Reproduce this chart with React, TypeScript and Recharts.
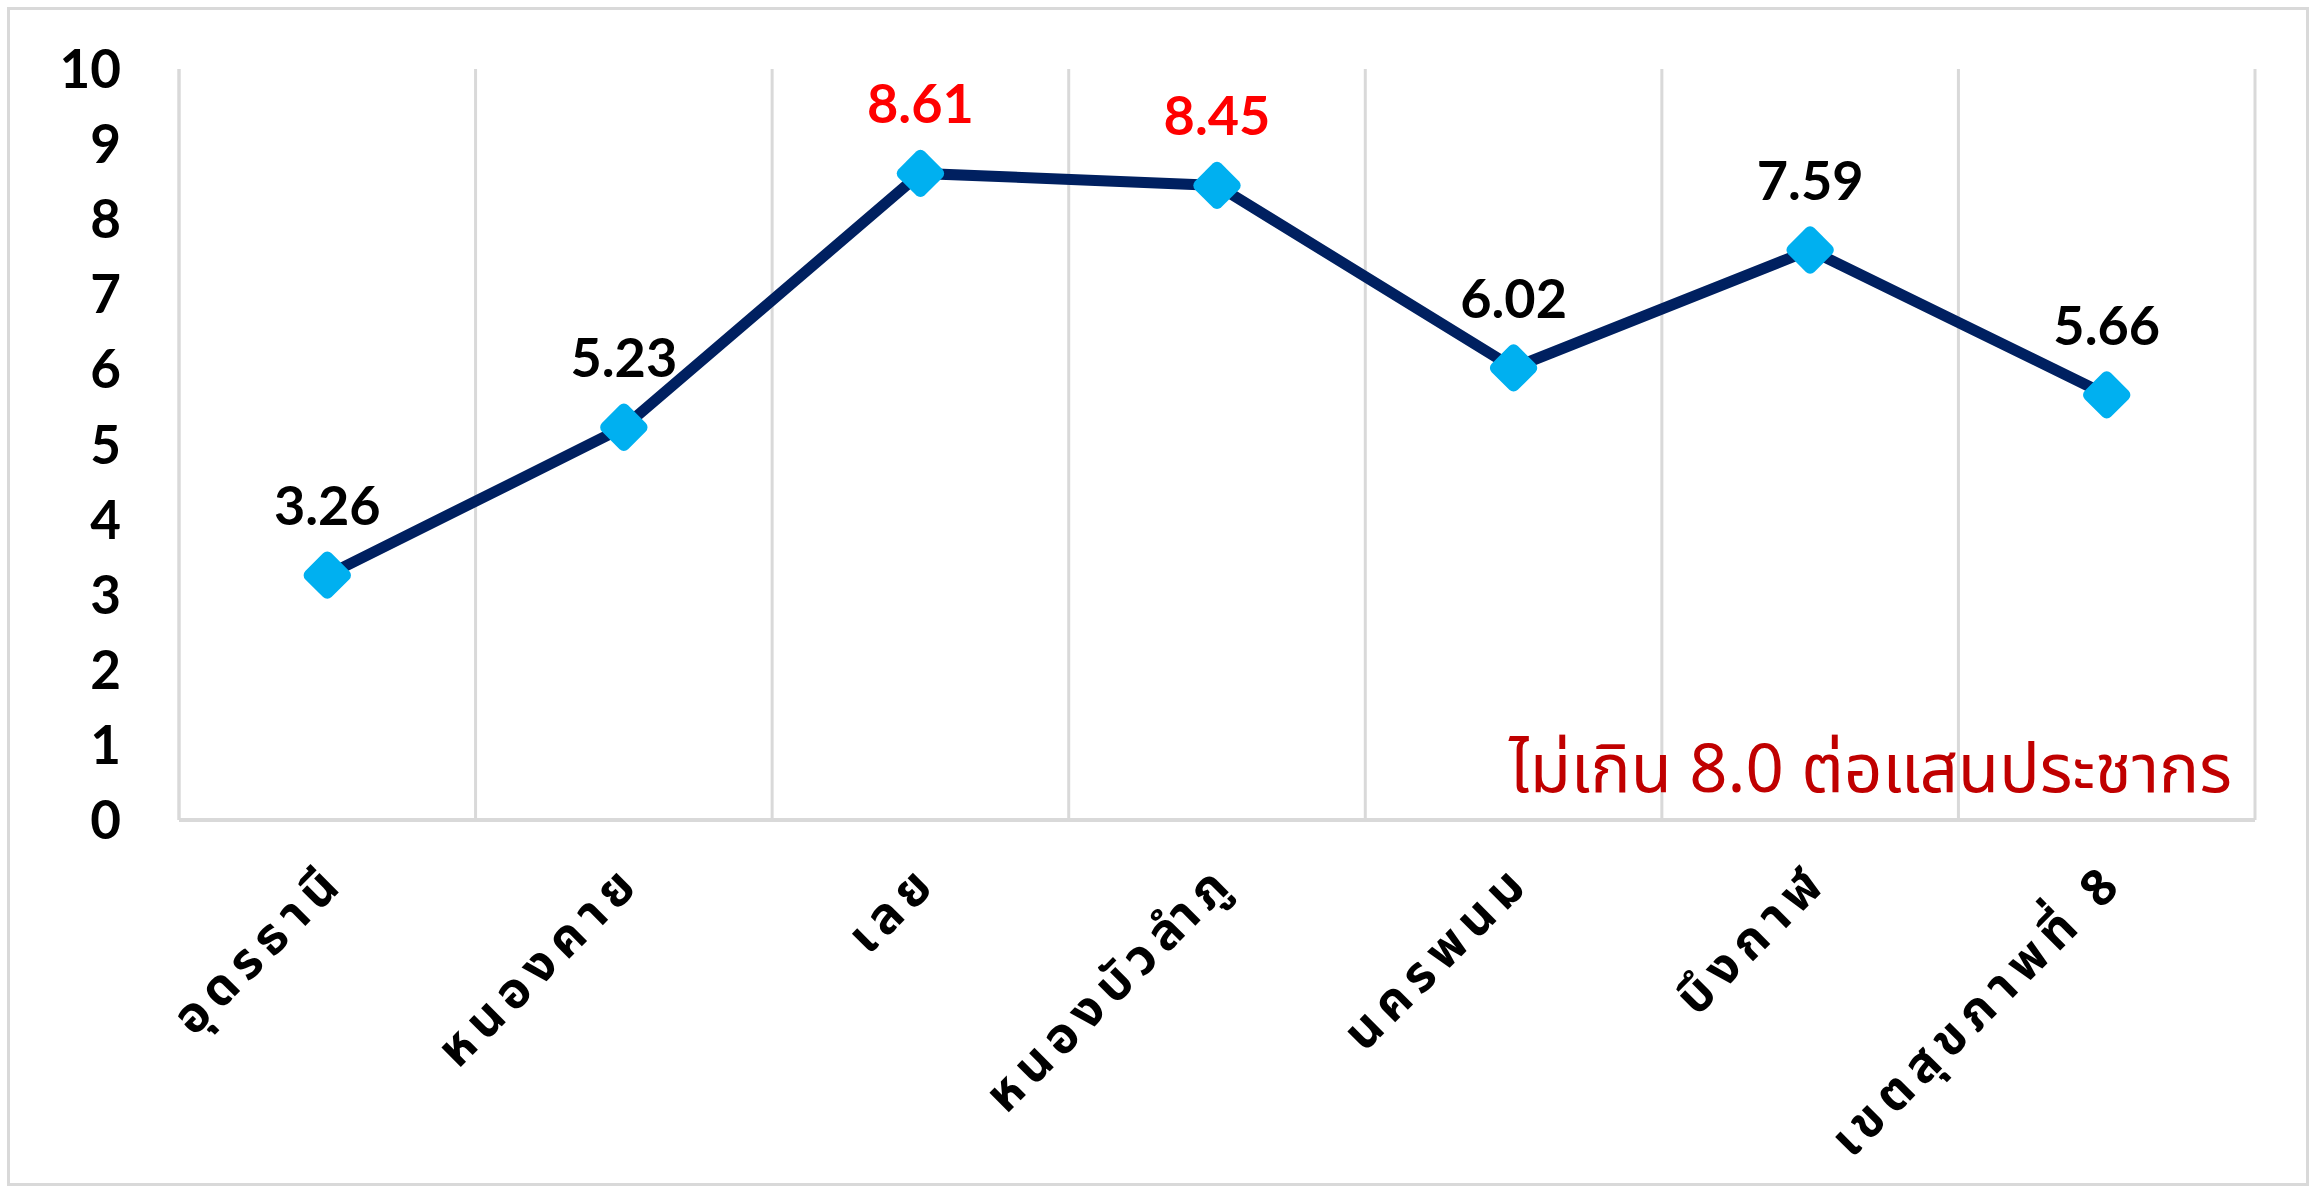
import React from "react";
import { LineChart, Line, XAxis, YAxis, CartesianGrid, LabelList } from "recharts";

const provinces = [
  "อุดรธานี",
  "หนองคาย",
  "เลย",
  "หนองบัวลำภู",
  "นครพนม",
  "บึงกาฬ",
  "เขตสุขภาพที่ 8",
];
const rates = [3.26, 5.23, 8.61, 8.45, 6.02, 7.59, 5.66];
const yTicks = [0, 1, 2, 3, 4, 5, 6, 7, 8, 9, 10];
const bandEdges = [0, 1, 2, 3, 4, 5, 6, 7];
const target = 8.0;
const targetNote = "ไม่เกิน 8.0 ต่อแสนประชากร";

const chartData = provinces.map((name, i) => ({ name, rate: rates[i], slot: i + 0.5 }));

const numFont = "Lato, 'Noto Sans', sans-serif";
const thaiFont = "Tahoma, 'Noto Sans Thai', Loma, Garuda, 'Noto Sans', sans-serif";
const gridGray = "#D9D9D9";

const Diamond = (props: any) => {
  const { cx, cy, index } = props;
  if (cx == null || cy == null) return null;
  const s = 37;
  return (
    <rect
      key={`d-${index}`}
      x={cx - s / 2}
      y={cy - s / 2}
      width={s}
      height={s}
      rx={6}
      fill="#00B0F0"
      transform={`rotate(45 ${cx} ${cy})`}
    />
  );
};

const ValueLabel = (props: any) => {
  const x = props.x ?? props.viewBox?.x;
  const y = props.y ?? props.viewBox?.y;
  const v = Number(props.value);
  return (
    <text
      x={x}
      y={y - 50}
      textAnchor="middle"
      fontSize={54}
      fontWeight={700}
      fontFamily={numFont}
      fill={v > target ? "#FF0000" : "#000000"}
    >
      {v.toFixed(2)}
    </text>
  );
};

const ProvinceTick = (props: any) => {
  const { x, y, payload } = props;
  return (
    <g transform={`translate(${x + 20},${y + 64}) rotate(-45)`}>
      <text
        textAnchor="end"
        fontSize={50}
        fontWeight={700}
        letterSpacing={8}
        fontFamily={thaiFont}
        fill="#000000"
      >
        {payload.value}
      </text>
    </g>
  );
};

const RateTick = (props: any) => {
  const { x, y, payload } = props;
  return (
    <text
      x={x}
      y={y}
      dy={19}
      textAnchor="end"
      fontSize={53}
      fontWeight={700}
      fontFamily={numFont}
      fill="#000000"
    >
      {payload.value}
    </text>
  );
};

export default function App() {
  return (
    <div style={{ position: "absolute", left: 0, top: 0, width: 2316, height: 1192, background: "#fff" }}>
      <div
        style={{
          position: "absolute",
          left: 7,
          top: 7,
          width: 2302,
          height: 1179,
          border: `3px solid ${gridGray}`,
          boxSizing: "border-box",
        }}
      />
      <div style={{ position: "absolute", left: 0, top: 0 }}>
        <LineChart
          width={2316}
          height={1192}
          data={chartData}
          margin={{ top: 69, right: 61, bottom: 0, left: 0 }}
        >
          <CartesianGrid xAxisId="bands" horizontal={false} stroke={gridGray} strokeWidth={3} />
          <XAxis
            xAxisId="bands"
            dataKey="slot"
            type="number"
            domain={[0, 7]}
            allowDataOverflow
            ticks={bandEdges}
            hide
          />
          <XAxis
            dataKey="name"
            scale="band"
            height={372}
            interval={0}
            tickLine={false}
            tickSize={0}
            tickMargin={0}
            axisLine={{ stroke: gridGray, strokeWidth: 4 }}
            tick={<ProvinceTick />}
          />
          <YAxis
            domain={[0, 10]}
            ticks={yTicks}
            width={179}
            tickLine={false}
            tickSize={0}
            tickMargin={58}
            axisLine={{ stroke: gridGray, strokeWidth: 3 }}
            tick={<RateTick />}
          />
          <Line
            dataKey="rate"
            type="linear"
            stroke="#002060"
            strokeWidth={11}
            dot={<Diamond />}
            activeDot={false}
            isAnimationActive={false}
          >
            <LabelList dataKey="rate" content={<ValueLabel />} />
          </Line>
        </LineChart>
      </div>
      <svg
        width={2316}
        height={1192}
        style={{ position: "absolute", left: 0, top: 0, pointerEvents: "none" }}
      >
        <text x={2232} y={792} textAnchor="end" fontSize={67} fontFamily={thaiFont} fill="#C00000">
          {targetNote}
        </text>
      </svg>
    </div>
  );
}
